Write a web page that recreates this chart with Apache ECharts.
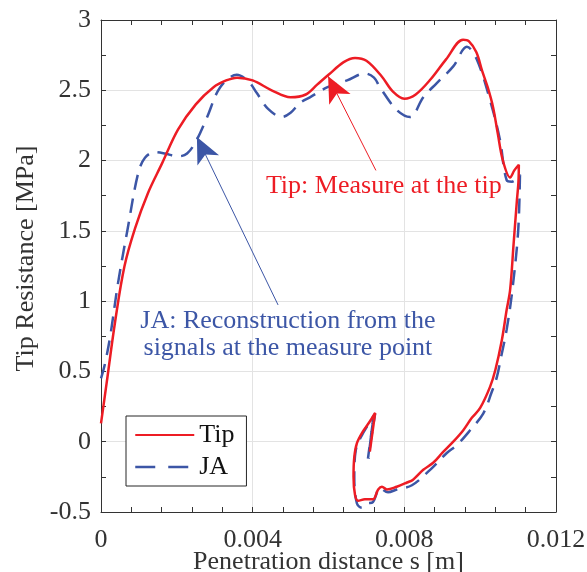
<!DOCTYPE html>
<html>
<head>
<meta charset="utf-8">
<script src="https://cdn.jsdelivr.net/npm/echarts@6/dist/echarts.min.js"></script>
<style>
html,body{margin:0;padding:0;background:#fff;}
#chart{width:587px;height:572px;}
</style>
</head>
<body>
<div id="chart"></div>
<script>
// ---- data (penetration distance s [m], tip resistance [MPa]) ----
const xTicks = [0, 0.004, 0.008, 0.012];
const yTicks = [-0.5, 0, 0.5, 1, 1.5, 2, 2.5, 3];
const seriesNames = ['Tip', 'JA'];

const tipS = [0, 0.00015, 0.00037, 0.00062, 0.0009, 0.00124, 0.00161, 0.00203, 0.0025, 0.00296, 0.0033, 0.00359, 0.004, 0.0045, 0.005, 0.0054, 0.0057, 0.006, 0.0064, 0.0067, 0.007, 0.0074, 0.0077, 0.008, 0.0083, 0.0087, 0.0091, 0.00955, 0.0097, 0.0099, 0.01005, 0.0102, 0.01034, 0.01046, 0.0106, 0.01079, 0.0109, 0.01102, 0.01101, 0.01097, 0.01088, 0.01079, 0.0107, 0.01057, 0.0104, 0.01026, 0.01, 0.00978, 0.00955, 0.00929, 0.009, 0.00876, 0.0085, 0.00823, 0.00807, 0.0078, 0.00754, 0.00741, 0.00731, 0.00717, 0.00696, 0.00678, 0.0067, 0.00666, 0.00668, 0.00675, 0.0069, 0.00708, 0.00723, 0.00709];
const tipQ = [0.13, 0.42, 0.85, 1.25, 1.52, 1.77, 1.98, 2.22, 2.4, 2.52, 2.57, 2.59, 2.57, 2.5, 2.45, 2.47, 2.54, 2.61, 2.7, 2.73, 2.71, 2.6, 2.49, 2.44, 2.47, 2.58, 2.72, 2.86, 2.85, 2.77, 2.64, 2.52, 2.38, 2.2, 2.0, 1.88, 1.93, 1.97, 1.85, 1.72, 1.4, 1.08, 0.94, 0.72, 0.51, 0.39, 0.24, 0.17, 0.08, 0.0, -0.08, -0.15, -0.2, -0.27, -0.29, -0.32, -0.34, -0.32, -0.34, -0.41, -0.41, -0.42, -0.38, -0.25, -0.11, -0.01, 0.07, 0.14, 0.205, -0.07];

const jaS = [0, 0.0001, 0.00024, 0.00045, 0.0007, 0.00098, 0.00116, 0.00142, 0.00169, 0.00203, 0.00227, 0.00253, 0.0028, 0.00314, 0.00358, 0.0039, 0.00411, 0.0044, 0.00477, 0.005, 0.00525, 0.00551, 0.00596, 0.00649, 0.00696, 0.0072, 0.00736, 0.0078, 0.00815, 0.0085, 0.00885, 0.00929, 0.00965, 0.00991, 0.01026, 0.01052, 0.0107, 0.01084, 0.01105, 0.011, 0.01084, 0.0107, 0.01055, 0.01044, 0.0103, 0.01008, 0.00973, 0.0094, 0.00912, 0.00868, 0.0082, 0.0078, 0.00757, 0.00736, 0.00717, 0.00702, 0.00688, 0.00675, 0.00668, 0.00672, 0.00691, 0.00723, 0.00704, 0.00716, 0.00707, 0.00718, 0.00706];
const jaQ = [0.45, 0.55, 0.745, 1.13, 1.51, 1.91, 2.02, 2.06, 2.05, 2.03, 2.05, 2.15, 2.31, 2.52, 2.61, 2.56, 2.48, 2.37, 2.31, 2.34, 2.41, 2.45, 2.52, 2.57, 2.62, 2.59, 2.52, 2.36, 2.31, 2.45, 2.55, 2.67, 2.81, 2.72, 2.43, 2.15, 1.86, 1.85, 1.9, 1.49, 1.06, 0.8, 0.6, 0.46, 0.35, 0.2, 0.08, -0.02, -0.08, -0.2, -0.31, -0.34, -0.36, -0.33, -0.43, -0.44, -0.47, -0.44, -0.25, -0.06, 0.06, 0.2, -0.12, 0.12, -0.08, 0.18, -0.12];

// annotations (data coordinates)
const tipArrowFrom = [0.00725, 1.93], tipArrowTo = [0.00599, 2.60];
const jaArrowFrom = [0.00467, 0.973], jaArrowTo = [0.00253, 2.168];
const tipNote = 'Tip: Measure at the tip', tipNoteAt = [0.00746, 1.82];
const jaNote = 'JA: Reconstruction from the\nsignals at the measure point', jaNoteAt = [0.00493, 0.76];

const RED = '#ED1C24', BLUE = '#3C56A6', AX = '#333333';
const FONT = '"Liberation Serif", "Times New Roman", serif';

function pairs(xs, ys) { return xs.map((x, i) => [x, ys[i]]); }

const chart = echarts.init(document.getElementById('chart'), null, {renderer: 'canvas'});

const baseX = {
  type: 'value', min: xTicks[0], max: xTicks[xTicks.length - 1], interval: xTicks[1] - xTicks[0],
  axisLine: {show: true, onZero: false, lineStyle: {color: AX, width: 1}},
  axisTick: {show: true, inside: true, length: 5, lineStyle: {color: AX}},
  minorTick: {show: true, splitNumber: 5, length: 5, lineStyle: {color: AX}},
};
const baseY = {
  type: 'value', min: yTicks[0], max: yTicks[yTicks.length - 1], interval: yTicks[1] - yTicks[0],
  axisLine: {show: true, onZero: false, lineStyle: {color: AX, width: 1}},
  axisTick: {show: true, inside: true, length: 5, lineStyle: {color: AX}},
  minorTick: {show: true, splitNumber: 2, length: 5, lineStyle: {color: AX}},
};

const option = {
  animation: false,
  backgroundColor: '#fff',
  textStyle: {fontFamily: FONT},
  grid: {left: 101, top: 20, right: 31, bottom: 60, containLabel: false, outerBoundsMode: 'none'},
  xAxis: [
    Object.assign({}, baseX, {
      position: 'bottom',
      name: 'Penetration distance s [m]', nameLocation: 'middle', nameGap: 37, nameMoveOverlap: false,
      nameTextStyle: {fontFamily: FONT, fontSize: 26, color: AX},
      axisLabel: {show: true, margin: 15, fontFamily: FONT, fontSize: 26, color: AX},
      splitLine: {show: true, lineStyle: {color: '#e3e3e3', width: 1}}
    }),
    Object.assign({}, baseX, {position: 'top', axisLabel: {show: false}, splitLine: {show: false}})
  ],
  yAxis: [
    Object.assign({}, baseY, {
      position: 'left',
      name: 'Tip Resistance [MPa]', nameLocation: 'middle', nameGap: 62, nameRotate: 90, nameMoveOverlap: false,
      nameTextStyle: {fontFamily: FONT, fontSize: 26, color: AX, padding: [0, 0, 0, 15]},
      axisLabel: {show: true, margin: 10, fontFamily: FONT, fontSize: 26, color: AX},
      splitLine: {show: true, lineStyle: {color: '#e3e3e3', width: 1}}
    }),
    Object.assign({}, baseY, {position: 'right', axisLabel: {show: false}, splitLine: {show: false}})
  ],
  legend: {
    orient: 'vertical', left: 126, top: 416,
    backgroundColor: '#fff', borderColor: '#262626', borderWidth: 1, borderRadius: 0,
    padding: [6, 12, 6, 8], itemGap: 6, itemWidth: 59, itemHeight: 14,
    itemStyle: {opacity: 0},
    textStyle: {fontFamily: FONT, fontSize: 26, color: '#111'},
    data: [
      {name: seriesNames[0]},
      {name: seriesNames[1], lineStyle: {type: [20, 13], color: BLUE, width: 2.5}}
    ]
  },
  series: [
    {
      name: seriesNames[0], type: 'line', xAxisIndex: 0, yAxisIndex: 0,
      data: pairs(tipS, tipQ), smooth: 0.35, symbol: 'none', z: 4,
      lineStyle: {color: RED, width: 2.5},
      itemStyle: {color: RED},
      markLine: {
        silent: true, symbol: ['none', 'arrow'], symbolSize: [18, 26], animation: false,
        label: {show: false},
        lineStyle: {color: RED, width: 1, type: 'solid'},
        data: [[{coord: tipArrowFrom}, {coord: tipArrowTo}]]
      }
    },
    {
      name: seriesNames[1], type: 'line', xAxisIndex: 0, yAxisIndex: 0,
      data: pairs(jaS, jaQ), smooth: 0.35, symbol: 'none', z: 3,
      lineStyle: {color: BLUE, width: 2.5, type: [15, 9]},
      itemStyle: {color: BLUE},
      markLine: {
        silent: true, symbol: ['none', 'arrow'], symbolSize: [18, 26], animation: false,
        label: {show: false},
        lineStyle: {color: BLUE, width: 1, type: 'solid'},
        data: [[{coord: jaArrowFrom}, {coord: jaArrowTo}]]
      }
    }
  ]
};

chart.setOption(option);

const p1 = chart.convertToPixel({xAxisIndex: 0, yAxisIndex: 0}, tipNoteAt);
const p2 = chart.convertToPixel({xAxisIndex: 0, yAxisIndex: 0}, jaNoteAt);
chart.setOption({
  graphic: [
    {type: 'text', x: p1[0], y: p1[1], z: 10,
     style: {text: tipNote, fill: RED, font: '26px ' + FONT, align: 'center', verticalAlign: 'middle'}},
    {type: 'text', x: p2[0], y: p2[1], z: 10,
     style: {text: jaNote, fill: BLUE, font: '26px ' + FONT, align: 'center', verticalAlign: 'middle', lineHeight: 27}}
  ]
});
</script>
</body>
</html>
